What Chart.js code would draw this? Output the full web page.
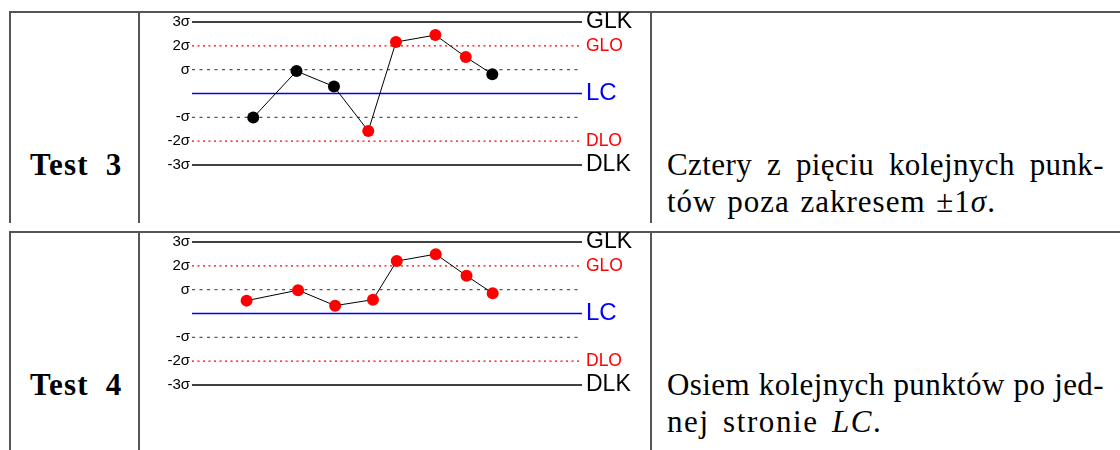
<!DOCTYPE html>
<html>
<head>
<meta charset="utf-8">
<script src="https://cdn.jsdelivr.net/npm/chart.js@4.4.0/dist/chart.umd.min.js"></script>
<style>
body { margin: 0; background: #fff; }
#page { position: relative; width: 1120px; height: 450px; overflow: hidden; background: #fff; font-family: "Liberation Serif", serif; color: #000; }
.hr { position: absolute; left: 9px; right: 0; height: 1.5px; background: #555; }
.vr { position: absolute; width: 1.5px; background: #555; }
.lab { position: absolute; left: 30px; font-weight: bold; font-size: 31px; line-height: 37px; letter-spacing: 1.2px; word-spacing: 8px; white-space: nowrap; }
.txt { position: absolute; left: 667px; width: 437px; font-size: 31px; line-height: 37px; letter-spacing: 1px; word-spacing: 2px; white-space: nowrap; }
.j { letter-spacing: 0.4px; }
.plot { position: absolute; left: 140px; }
</style>
</head>
<body>
<div id="page">
  <!-- row 1 -->
  <div class="hr" style="top:11px"></div>
  <div class="vr" style="left:9px;top:11px;height:212px"></div>
  <div class="vr" style="left:138px;top:11px;height:212px"></div>
  <div class="vr" style="left:650px;top:11px;height:212px"></div>
  <canvas id="test3" class="plot" style="top:12px" width="510" height="212"></canvas>
  <div class="lab" style="top:146px">Test 3</div>
  <div class="txt j" style="top:146px"><span>Cztery z pięciu kolejnych punk-</span></div>
  <div class="txt" style="top:183px">tów poza zakresem ±1<i>σ</i>.</div>

  <!-- row 2 -->
  <div class="hr" style="top:231px"></div>
  <div class="vr" style="left:9px;top:231px;height:230px"></div>
  <div class="vr" style="left:138px;top:231px;height:230px"></div>
  <div class="vr" style="left:650px;top:231px;height:230px"></div>
  <canvas id="test4" class="plot" style="top:232px" width="510" height="212"></canvas>
  <div class="lab" style="top:366px">Test 4</div>
  <div class="txt j" style="top:366px"><span>Osiem kolejnych punktów po jed-</span></div>
  <div class="txt" style="top:403px;letter-spacing:1.6px;word-spacing:4px">nej stronie <i>LC</i>.</div>
</div>

<script>
// control levels in sigma units
const levels = [-3, -2, -1, 0, 1, 2, 3];
const leftTicks = ['-3σ', '-2σ', '-σ', '', 'σ', '2σ', '3σ'];
const rightTicks = ['DLK', 'DLO', '', 'LC', '', 'GLO', 'GLK'];
const xRange = [0, 100];

// Test 3 - four of five points beyond 1 sigma
const test3X = [15.7, 26.8, 36.4, 45.2, 52.3, 62.4, 70.2, 77.0];
const test3Y = [-1.01, 0.94, 0.29, -1.57, 2.16, 2.45, 1.53, 0.81];
const test3Flag = [0, 0, 0, 1, 1, 1, 1, 0];

// Test 4 - eight points on one side of LC
const test4X = [14.0, 27.2, 36.7, 46.4, 52.5, 62.5, 70.4, 77.1];
const test4Y = [0.54, 0.98, 0.33, 0.58, 2.2, 2.49, 1.58, 0.85];
const test4Flag = [1, 1, 1, 1, 1, 1, 1, 1];

// styles
const lineStyle = {
  3: { color: '#000000', width: 1.5, dash: [] },
  2: { color: '#ff0000', width: 1.3, dash: [2, 3.5] },
  1: { color: '#555555', width: 1.2, dash: [3, 4.5] },
  0: { color: '#0000ff', width: 1.6, dash: [] }
};
const rightTickColor = ['#000', '#ff0000', '#000', '#0000ff', '#000', '#ff0000', '#000'];
const rightTickSize = [23, 17.5, 12, 24, 12, 17.5, 23];

// justify the first line of each text cell (like LaTeX p column)
document.querySelectorAll('.j').forEach(el => {
  const span = el.querySelector('span');
  const spaces = (span.textContent.match(/ /g) || []).length;
  const natural = span.getBoundingClientRect().width;
  el.style.wordSpacing = (2 + (el.clientWidth - natural) / spaces) + 'px';
});

function makeChart(id, xs, ys, flags) {
  const series = {
    data: xs.map((x, i) => ({ x: x, y: ys[i] })),
    showLine: true,
    borderColor: '#000',
    borderWidth: 1,
    pointRadius: 6,
    pointBorderWidth: 0,
    pointBackgroundColor: flags.map(f => f ? '#ff0000' : '#000000'),
    clip: false
  };
  const limits = levels.map(lv => {
    const st = lineStyle[Math.abs(lv)];
    return {
      data: xRange.map(x => ({ x: x, y: lv })),
      showLine: true,
      borderColor: st.color,
      borderWidth: st.width,
      borderDash: st.dash,
      pointRadius: 0,
      clip: false
    };
  });

  new Chart(document.getElementById(id), {
    type: 'scatter',
    data: { datasets: [series].concat(limits) },
    options: {
      responsive: false,
      animation: false,
      events: [],
      layout: { padding: { top: 10, bottom: 59, left: 0, right: 0 } },
      plugins: { legend: { display: false }, tooltip: { enabled: false } },
      scales: {
        x: { type: 'linear', min: xRange[0], max: xRange[1], display: false },
        y: {
          position: 'left', min: -3, max: 3,
          afterBuildTicks: s => { s.ticks = levels.map(v => ({ value: v })); },
          afterFit: s => { s.width = 52; s.paddingTop = 0; s.paddingBottom = 0; },
          grid: { display: false, drawTicks: false },
          border: { display: false },
          ticks: {
            autoSkip: false, padding: 2, color: '#000',
            font: { family: 'Liberation Sans', size: 15 },
            callback: (v, i) => leftTicks[i]
          }
        },
        y2: {
          position: 'right', min: -3, max: 3,
          afterBuildTicks: s => { s.ticks = levels.map(v => ({ value: v })); },
          afterFit: s => { s.width = 68; s.paddingTop = 0; s.paddingBottom = 0; },
          grid: { display: false, drawTicks: false },
          border: { display: false },
          ticks: {
            autoSkip: false, padding: 4,
            color: ctx => rightTickColor[ctx.index],
            font: ctx => ({ family: 'Liberation Sans', size: rightTickSize[ctx.index] }),
            callback: (v, i) => rightTicks[i]
          }
        }
      }
    }
  });
}

makeChart('test3', test3X, test3Y, test3Flag);
makeChart('test4', test4X, test4Y, test4Flag);
</script>
</body>
</html>
